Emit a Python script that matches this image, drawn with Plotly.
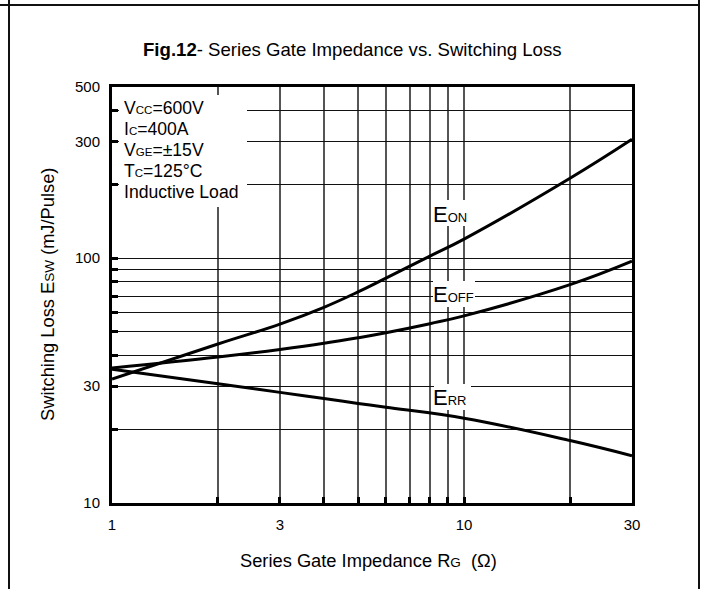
import numpy as np
import plotly.graph_objects as go

# ---- data ----
rg = [1, 2, 3, 4, 5, 6, 8, 10, 20, 30]
e_on = [32.1, 44.6, 53.8, 63.0, 72.8, 82.9, 101.9, 119.6, 212, 306]
e_off = [35.6, 39.5, 42.4, 44.9, 47.3, 49.6, 54.0, 58.1, 77.9, 97.2]
rg_rr = [1, 2, 3, 4, 5, 6, 10, 20, 30]
e_rr = [35.2, 30.7, 28.3, 26.7, 25.5, 24.6, 22.2, 18.0, 15.6]

x_tickvals = [1, 2, 3, 4, 5, 6, 7, 8, 9, 10, 20, 30]
x_ticktext = ["1", "", "3", "", "", "", "", "", "", "10", "", "30"]
y_tickvals = [10, 20, 30, 40, 50, 60, 70, 80, 90, 100, 200, 300, 400, 500]
y_ticktext = ["10", "", "30", "", "", "", "", "", "", "100", "", "300", "", "500"]

cond_lines = [
    "V<span style='font-size:11.5px'>CC</span>=600V",
    "I<span style='font-size:11.5px'>C</span>=400A",
    "V<span style='font-size:11.5px'>GE</span>=±15V",
    "T<span style='font-size:11.5px'>C</span>=125°C",
    "Inductive Load",
]

FONT = "Liberation Sans, Arial, sans-serif"

# plot-area geometry in pixels (for positioning text / label boxes)
L, R, T, B = 112, 632, 87, 503
W, H = 705, 589


def px(xp):
    return (xp - L) / (R - L)


def py(yp):
    return (B - yp) / (B - T)


fig = go.Figure()
line = dict(color="black", width=3, shape="spline", smoothing=1.2)
fig.add_trace(go.Scatter(x=rg, y=e_on, mode="lines", line=line, name="EON"))
fig.add_trace(go.Scatter(x=rg, y=e_off, mode="lines", line=line, name="EOFF"))
fig.add_trace(go.Scatter(x=rg_rr, y=e_rr, mode="lines", line=line, name="ERR"))

shapes = []
# outer frame lines
shapes.append(dict(type="line", xref="paper", yref="paper",
                   x0=px(0), x1=px(700), y0=py(5), y1=py(5),
                   line=dict(color="#111", width=2)))
shapes.append(dict(type="line", xref="paper", yref="paper",
                   x0=px(9), x1=px(9), y0=py(0), y1=py(589),
                   line=dict(color="#111", width=2)))
shapes.append(dict(type="line", xref="paper", yref="paper",
                   x0=px(699), x1=px(699), y0=py(0), y1=py(589),
                   line=dict(color="#111", width=2)))

annotations = []
# white boxes that hide the grid behind the texts
for (x0, x1, y0, y1) in [(119, 247, 95, 207), (432, 471, 200, 226),
                         (433, 475, 281, 307), (434, 471, 384, 410)]:
    annotations.append(dict(xref="paper", yref="paper",
                            x=px((x0 + x1) / 2), y=py((y0 + y1) / 2),
                            xanchor="center", yanchor="middle", showarrow=False,
                            text=" ", width=x1 - x0, height=y1 - y0,
                            bgcolor="white", borderpad=0, borderwidth=0))
# title
annotations.append(dict(xref="paper", yref="paper", x=px(352.5), y=py(50),
                        xanchor="center", yanchor="middle", showarrow=False,
                        text="<b>Fig.12</b>- Series Gate Impedance vs. Switching Loss",
                        font=dict(size=18.6, color="black", family=FONT)))
# conditions
for i, t in enumerate(cond_lines):
    annotations.append(dict(xref="paper", yref="paper", x=px(122), y=py(108 + 21 * i),
                            xanchor="left", yanchor="middle", showarrow=False,
                            text=t, font=dict(size=17.6, color="black", family=FONT)))
# curve labels
for t, yc in [("ON", 214), ("OFF", 294), ("RR", 397)]:
    annotations.append(dict(xref="paper", yref="paper", x=px(431), y=py(yc),
                            xanchor="left", yanchor="middle", showarrow=False,
                            text="E<span style='font-size:13px'>" + t + "</span>",
                            font=dict(size=22, color="black", family=FONT)))
# axis titles
annotations.append(dict(xref="paper", yref="paper", x=px(368), y=py(560),
                        xanchor="center", yanchor="middle", showarrow=False,
                        text="Series Gate Impedance R<span style='font-size:13.5px'>G</span>  (Ω)",
                        font=dict(size=18.3, color="black", family=FONT)))
annotations.append(dict(xref="paper", yref="paper", x=px(47), y=0.5,
                        xanchor="center", yanchor="middle", showarrow=False, textangle=-90,
                        text="Switching Loss E<span style='font-size:13.5px'>SW</span> (mJ/Pulse)",
                        font=dict(size=18.3, color="black", family=FONT)))

axis_common = dict(showline=True, linecolor="black", linewidth=3, mirror=True,
                   showgrid=True,
                   ticks="inside", ticklen=6, tickwidth=3, tickcolor="black",
                   tickfont=dict(size=15, color="black", family=FONT),
                   zeroline=False, fixedrange=True)

fig.update_layout(
    width=W, height=H,
    margin=dict(l=L, r=W - R, t=T, b=H - B),
    paper_bgcolor="white", plot_bgcolor="white",
    showlegend=False,
    xaxis=dict(type="log", range=[0, np.log10(30)], tickmode="array",
               tickvals=x_tickvals, ticktext=x_ticktext, ticklabelstandoff=6,
               gridcolor="#555", gridwidth=1.5, **axis_common),
    yaxis=dict(type="log", range=[1, np.log10(500)], tickmode="array",
               tickvals=y_tickvals, ticktext=y_ticktext, ticklabelstandoff=6,
               gridcolor="#111", gridwidth=1, **axis_common),
    shapes=shapes,
    annotations=annotations,
    font=dict(family=FONT, color="black"),
)

fig.write_html(
    "out.html",
    config={"displayModeBar": False},
    post_script="document.body.style.margin='0';document.body.style.overflow='hidden';",
)
